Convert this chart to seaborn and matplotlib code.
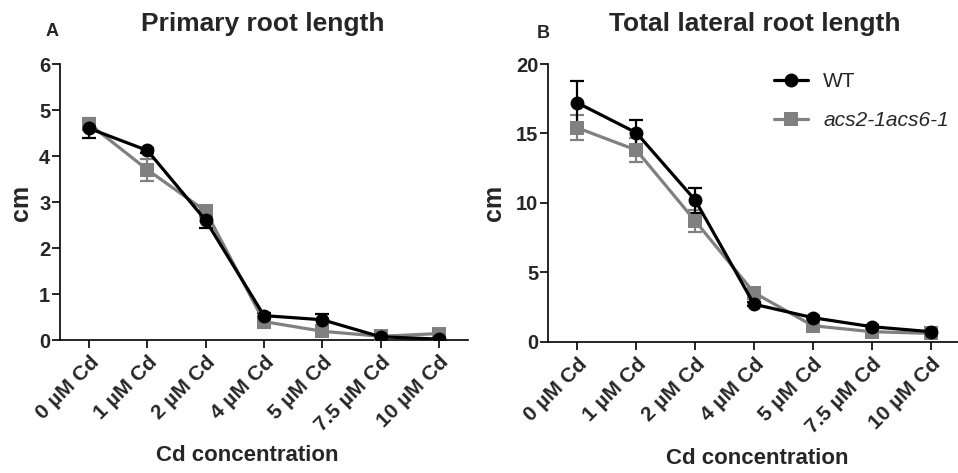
import matplotlib
matplotlib.use("Agg")
import matplotlib.pyplot as plt
import seaborn as sns
import pandas as pd
import numpy as np

# ---- data ----
categories = ["0 µM Cd", "1 µM Cd", "2 µM Cd", "4 µM Cd", "5 µM Cd", "7.5 µM Cd", "10 µM Cd"]
genotypes = ["WT", "acs2-1acs6-1"]

primary_wt = [4.60, 4.12, 2.60, 0.53, 0.44, 0.07, 0.02]
primary_wt_err = [0.20, 0.05, 0.17, 0.05, 0.13, 0.03, 0.02]
primary_mut = [4.70, 3.70, 2.80, 0.40, 0.19, 0.08, 0.14]
primary_mut_err = [0.12, 0.24, 0.07, 0.05, 0.05, 0.03, 0.03]

lateral_wt = [17.2, 15.05, 10.2, 2.70, 1.73, 1.08, 0.72]
lateral_wt_err = [1.6, 0.9, 0.9, 0.15, 0.10, 0.10, 0.10]
lateral_mut = [15.4, 13.8, 8.7, 3.53, 1.15, 0.72, 0.60]
lateral_mut_err = [0.9, 0.85, 0.8, 0.20, 0.10, 0.10, 0.10]

colors = {"WT": "#000000", "acs2-1acs6-1": "#808080"}
markers = {"WT": "o", "acs2-1acs6-1": "s"}

sns.set_theme(style="ticks")
plt.rcParams["font.family"] = ["Liberation Sans", "DejaVu Sans"]
plt.rcParams["font.weight"] = "bold"

W, H = 958, 473
fig = plt.figure(figsize=(W / 100, H / 100), dpi=100)

def px_axes(x0, y0, x1, y1):
    return fig.add_axes([x0 / W, 1 - y1 / H, (x1 - x0) / W, (y1 - y0) / H])

axA = px_axes(60, 64, 468, 340)
axB = px_axes(548, 64, 960, 341.7)

def make_df(wt, wterr, mut, muterr):
    rows = []
    for g, vals, errs in [("WT", wt, wterr), ("acs2-1acs6-1", mut, muterr)]:
        for i, (v, e) in enumerate(zip(vals, errs)):
            rows.append({"pos": i, "cat": categories[i], "genotype": g, "value": v, "err": e})
    return pd.DataFrame(rows)

def draw(ax, df, ymax, yticks, title, letter, letter_xy, title_xy, ylab_x, xlab_xy, legend=False):
    # draw mutant first so WT is on top
    for g in ["acs2-1acs6-1", "WT"]:
        sub = df[df.genotype == g]
        ax.errorbar(sub["pos"], sub["value"], yerr=sub["err"], fmt="none",
                    ecolor=colors[g], elinewidth=1.6, capsize=5, capthick=1.6, zorder=2)
    sns.lineplot(data=df, x="pos", y="value", hue="genotype", style="genotype",
                 hue_order=["acs2-1acs6-1", "WT"], style_order=["acs2-1acs6-1", "WT"],
                 palette=colors, markers=markers, dashes=False, linewidth=2.3,
                 markersize=10, markeredgewidth=0, ax=ax, legend=False, zorder=3,
                 estimator=None, sort=False)
    ax.set_xlim(-0.5, 6.5)
    ax.set_ylim(0, ymax)
    ax.set_yticks(yticks)
    ax.set_yticklabels([str(t) for t in yticks], fontsize=14.5, fontweight="bold")
    ax.set_xticks(range(len(categories)))
    ax.set_xticklabels(categories, rotation=45, ha="right", va="top",
                       rotation_mode="anchor", fontsize=15, fontweight="bold")
    ax.set_xlabel("")
    ax.set_ylabel("")
    for s in ["top", "right"]:
        ax.spines[s].set_visible(False)
    for s in ["left", "bottom"]:
        ax.spines[s].set_linewidth(1.2)
        ax.spines[s].set_color("black")
    ax.tick_params(axis="both", length=6, width=1.2, color="black", pad=3)
    ax.tick_params(axis="y", pad=1)
    fig.text(letter_xy[0] / W, 1 - letter_xy[1] / H, letter, fontsize=13,
             fontweight="bold", ha="center", va="center")
    fig.text(title_xy[0] / W, 1 - title_xy[1] / H, title, fontsize=19,
             fontweight="bold", ha="center", va="center")
    fig.text(ylab_x / W, 1 - 203 / H, "cm", fontsize=18, fontweight="bold",
             rotation=90, ha="center", va="center")
    fig.text(xlab_xy[0] / W, 1 - xlab_xy[1] / H, "Cd concentration", fontsize=16,
             fontweight="bold", ha="center", va="center")
    if legend:
        from matplotlib.lines import Line2D
        handles = [Line2D([], [], color=colors[g], marker=markers[g], lw=2.3,
                          markersize=10, markeredgewidth=0) for g in genotypes]
        leg = ax.legend(handles, genotypes, loc="upper left",
                        bbox_to_anchor=(766 / W, 1 - 64 / H), bbox_transform=fig.transFigure,
                        frameon=False, fontsize=15, handlelength=1.6, handletextpad=0.75,
                        labelspacing=0.95, borderaxespad=0)
        for t in leg.get_texts():
            t.set_fontweight("normal")
        leg.get_texts()[1].set_fontstyle("italic")

dfA = make_df(primary_wt, primary_wt_err, primary_mut, primary_mut_err)
dfB = make_df(lateral_wt, lateral_wt_err, lateral_mut, lateral_mut_err)

draw(axA, dfA, 6, [0, 1, 2, 3, 4, 5, 6], "Primary root length", "A", (52, 31), (263, 24), 21, (247, 455))
draw(axB, dfB, 20, [0, 5, 10, 15, 20], "Total lateral root length", "B", (543, 34), (755, 24), 494, (757, 458), legend=True)

fig.savefig("out.png", dpi=100)
